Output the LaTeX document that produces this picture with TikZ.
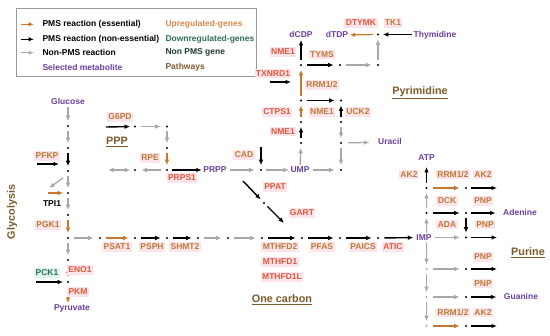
\documentclass[tikz,border=0pt]{standalone}
\usepackage{fontspec}
\setmainfont{Liberation Sans}
\usepackage{xcolor}
\usepackage{tikz}
\usetikzlibrary{arrows.meta}

\definecolor{upred}{HTML}{E0583A}
\definecolor{upbrn}{HTML}{BC7A34}
\definecolor{essarr}{HTML}{C8782E}
\definecolor{grarr}{HTML}{A8A8A8}
\definecolor{metab}{HTML}{6B3FA0}
\definecolor{pathw}{HTML}{7D5A2A}
\definecolor{downg}{HTML}{2E6E5E}
\definecolor{nonpms}{HTML}{1E3A2C}
\definecolor{uplegend}{HTML}{D8884A}
\definecolor{pinkbg}{HTML}{FDE4EB}
\definecolor{mintbg}{HTML}{DDF5EF}

\begin{document}
\begin{tikzpicture}[x=1pt, y=-1pt, >={Latex[length=5.5pt,width=4.6pt]},
    font=\fontsize{8.5}{9.5}\selectfont\bfseries,
    rdot/.style={circle, fill=black, inner sep=0pt, minimum size=2.4pt, outer sep=3.6pt},
    gdot/.style={rdot, fill=grarr},
    met/.style={text=metab, inner sep=1.4pt, text height=6pt, text depth=0.6pt},
    genA/.style={text=upred, fill=pinkbg, inner sep=1.4pt, text height=6pt, text depth=0.6pt},
    genB/.style={text=upbrn, fill=pinkbg, inner sep=1.4pt, text height=6pt, text depth=0.6pt},
    gdown/.style={text=downg, fill=mintbg, inner sep=1.4pt, text height=6pt, text depth=0.6pt},
    pway/.style={text=pathw, font=\fontsize{10.8}{12}\selectfont\bfseries},
    ess/.style={->, essarr, line width=1.3pt},
    nes/.style={->, black, line width=1.4pt},
    non/.style={->, grarr, line width=1.3pt},
    hsh/.style={shorten <=1.5pt, shorten >=1.5pt}]
    \useasboundingbox (0,0) rectangle (550,336);

    % Legend
    \draw[gray!80, line width=0.6pt] (16,8) rectangle (256,76);
    \foreach \y/\s [count=\i] in {24.3/ess, 39.3/nes, 52.7/non} {
        \coordinate (la\i) at (21,\y);
        \coordinate (lb\i) at (34,\y);
        \draw[\s] (la\i) -- (lb\i);
    }
    \node[anchor=west] (leg1) at (39,24.3) {PMS reaction (essential)};
    \node[anchor=west] (leg2) at (39,39.3) {PMS reaction (non-essential)};
    \node[anchor=west] (leg3) at (39,52.7) {Non-PMS reaction};
    \node[anchor=west, text=metab] (leg4) at (39,67.3) {Selected metabolite};
    \node[anchor=west, text=uplegend] (leg5) at (162,24.3) {Upregulated-genes};
    \node[anchor=west, text=downg] (leg6) at (162,39.3) {Downregulated-genes};
    \node[anchor=west, text=nonpms] (leg7) at (162,52.7) {Non PMS gene};
    \node[anchor=west, text=pathw] (leg8) at (162,67.3) {Pathways};

    % Glycolysis
    \node[met] (glc) at (68,102) {Glucose};
    \node[rdot] (g1) at (68,126) {};
    \node[rdot] (g2) at (68,148) {};
    \node[rdot] (g3) at (68,171) {};
    \node[rdot] (g4) at (68,193) {};
    \node[rdot] (g5) at (68,215) {};
    \node[rdot] (g6) at (68,238) {};
    \node[rdot] (g7) at (68,260) {};
    \node[rdot] (g8) at (68,282) {};
    \node[met] (pyr) at (72,308) {Pyruvate};
    \draw[non] (glc) -- (g1);
    \draw[non] (g1) -- (g2);
    \draw[nes] (g2) -- (g3);
    \draw[non] (g3) -- (g4);
    \draw[non] (g4) -- (g5);
    \draw[ess] (g5) -- (g6);
    \draw[non] (g6) -- (g7);
    \draw[ess] (g7) -- (g8);
    \draw[ess] (g8) -- (g8 |- pyr.north);

    \node[genB] (pfkp) at (47,156) {PFKP};
    \coordinate (pfkA) at (37,164);
    \coordinate (pfkB) at (59,164);
    \draw[nes] (pfkA) -- (pfkB);
    \coordinate (tpA) at (63,178);
    \coordinate (tpB) at (49,188);
    \draw[non] (tpA) -- (tpB);
    \coordinate (tpC) at (48,193);
    \draw[ess] (tpC) -- (g4);
    \node (tpi) at (52,204) {TPI1};
    \node[genB] (pgk) at (48,225) {PGK1};
    \node[genA] (eno) at (80,270) {ENO1};
    \node[genA] (pkm) at (78,292) {PKM};
    \node[gdown] (pck) at (47,273) {PCK1};
    \coordinate (pckA) at (36,282);
    \draw[nes] (pckA) -- (g8);
    \node[pway, rotate=90] (glyc) at (12,212) {Glycolysis};

    % Serine and one carbon
    \node[rdot] (s1) at (100,238) {};
    \node[rdot] (s2) at (135,238) {};
    \node[rdot] (s3) at (167,238) {};
    \node[rdot] (s4) at (198,238) {};
    \node[rdot] (s5) at (228,238) {};
    \node[rdot] (s6) at (262,238) {};
    \node[rdot] (s7) at (302,238) {};
    \node[rdot] (s8) at (340,238) {};
    \node[rdot] (s9) at (378,238) {};
    \draw[non, hsh] (g6) -- (s1);
    \draw[ess, hsh] (s1) -- (s2);
    \draw[nes, hsh] (s2) -- (s3);
    \draw[nes, hsh] (s3) -- (s4);
    \draw[non, hsh] (s4) -- (s5);
    \draw[non, hsh] (s5) -- (s6);
    \draw[nes, hsh] (s6) -- (s7);
    \draw[nes, hsh] (s7) -- (s8);
    \draw[nes, hsh] (s8) -- (s9);
    \node[genB] (psat) at (117,247) {PSAT1};
    \node[genB] (psph) at (152,247) {PSPH};
    \node[genB] (shmt) at (185,247) {SHMT2};
    \node[genB] (mthfdb) at (280,247) {MTHFD2};
    \node[genA] (mthfda) at (280,262) {MTHFD1};
    \node[genA] (mthfdl) at (282,277) {MTHFD1L};
    \node[genB] (pfas) at (322,247) {PFAS};
    \node[genB] (paics) at (363,247) {PAICS};
    \node[genA] (atic) at (393,247) {ATIC};
    \node[pway] (onec) at (282,300) {\underline{One carbon}};

    % PPP
    \node[rdot] (p1) at (135,126.5) {};
    \node[rdot] (p2) at (167,126.5) {};
    \node[rdot] (p3) at (167,148) {};
    \node[rdot] (p4) at (167,170) {};
    \node[rdot] (p5) at (135,170) {};
    \node[met] (prpp) at (215,170) {PRPP};
    \coordinate (g6pA) at (106,127);
    \coordinate (ppA) at (108,170);
    \draw[nes] (g6pA) -- (p1);
    \draw[non, hsh] (p1) -- (p2);
    \draw[non] (p2) -- (p3);
    \draw[ess] (p3) -- (p4);
    \draw[non, hsh] (p4) -- (p5);
    \draw[non, <->] (ppA) -- (p5);
    \draw[nes] (p4) -- (prpp);
    \node[genB] (g6pd) at (120,117) {G6PD};
    \node[genB] (rpe) at (150,158) {RPE};
    \node[genA] (prps) at (182,178) {PRPS1};
    \node[pway] (ppp) at (117,142) {\underline{PPP}};

    % Pyrimidine
    \node[rdot] (c1) at (261,170) {};
    \node[met] (ump) at (300,170) {UMP};
    \node[rdot] (u1) at (341,100.5) {};
    \node[rdot] (u2) at (341,122) {};
    \node[rdot] (u3) at (341,143) {};
    \node[rdot] (u4) at (341,170) {};
    \draw[non, hsh] (prpp) -- (c1);
    \draw[non] (c1) -- (ump);
    \draw[non, hsh] (ump) -- (u4);
    \coordinate (cadA) at (261,147);
    \draw[nes] (cadA) -- (c1);
    \node[genB] (cad) at (244,155) {CAD};
    \coordinate (ppatA) at (243,181);
    \node[rdot] (q1) at (264,203) {};
    \coordinate (gartB) at (284,223);
    \draw[nes] (ppatA) -- (q1);
    \draw[nes] (q1) -- (gartB);
    \node[genA] (ppat) at (275,187) {PPAT};
    \node[genA] (gart) at (302,213) {GART};

    \node[rdot] (y1) at (301,143) {};
    \node[rdot] (y2) at (301,122) {};
    \node[rdot] (y3) at (301,100.5) {};
    \node[rdot] (y4) at (301,65) {};
    \node[met] (dcdp) at (301,35) {dCDP};
    \draw[non] (ump) -- (y1);
    \draw[nes] (y1) -- (y2);
    \draw[ess] (y2) -- (y3);
    \draw[ess] (y3) -- (y4);
    \draw[nes] (y4) -- (dcdp);
    \node[genA] (nmea) at (283,131.5) {NME1};
    \node[genA] (ctps) at (277,112) {CTPS1};
    \node[genB] (rrma) at (322,85) {RRM1/2};
    \node[genA] (nmeb) at (283,52) {NME1};
    \node[genA] (txn) at (273,73.5) {TXNRD1};
    \coordinate (txA) at (270,82);
    \coordinate (txB) at (291,82);
    \draw[nes] (txA) -- (txB);

    \draw[nes, hsh] (y3) -- (u1);
    \draw[nes] (u2) -- (u1);
    \draw[non] (u2) -- (u3);
    \draw[non] (u3) -- (u4);
    \node[genB] (nmec) at (322,112) {NME1};
    \node[genB] (uck) at (358,112) {UCK2};
    \node[met] (ura) at (390,142) {Uracil};
    \draw[non, shorten <=2pt, shorten >=7pt] (u3) -- (ura);

    \node[rdot] (t1) at (340,65) {};
    \node[rdot] (t2) at (378,65) {};
    \node[rdot] (t3) at (378,34.5) {};
    \node[met] (dtdp) at (337,35) {dTDP};
    \node[met] (thy) at (435,34.5) {Thymidine};
    \draw[nes, hsh] (y4) -- (t1);
    \draw[non, hsh] (t1) -- (t2);
    \draw[non] (t2) -- (t3);
    \draw[ess] (t3) -- (dtdp);
    \draw[nes] (thy) -- (t3);
    \node[genB] (tyms) at (322,54.5) {TYMS};
    \node[genA] (dtymk) at (361,23) {DTYMK};
    \node[genB] (tk) at (393,23) {TK1};
    \node[pway] (pyrim) at (420,93) {\underline{Pyrimidine}};

    % Purine
    \node[met] (atp) at (426.5,158) {ATP};
    \node[rdot] (a1) at (426.5,188) {};
    \node[rdot] (a2) at (426.5,213) {};
    \node[met] (imp) at (424,237.5) {IMP};
    \node[gdot] (a3) at (426.5,269) {};
    \node[gdot] (a4) at (426.5,297) {};
    \node[gdot] (a5) at (426.5,326) {};
    \node[rdot] (b1) at (466,188) {};
    \node[rdot] (b2) at (466,213) {};
    \node[rdot] (b3) at (466,237.5) {};
    \node[rdot] (b4) at (466,269) {};
    \node[rdot] (b5) at (466,297) {};
    \node[rdot] (b6) at (466,326) {};
    \node[met] (ade) at (520,213) {Adenine};
    \node[met] (gua) at (521,297) {Guanine};
    \coordinate (e1) at (497,188);
    \coordinate (e3) at (497,237.5);
    \coordinate (e4) at (497,269);
    \coordinate (e6) at (497,326);

    \draw[nes, hsh] (s9) -- (imp);
    \draw[nes, shorten >=4pt] (a1) -- (atp);
    \draw[non] (a2) -- (a1);
    \draw[non] (imp.north -| a2) -- (a2);
    \draw[non] (imp.south -| a3) -- (a3);
    \draw[non] (a3) -- (a4);
    \draw[non] (a4) -- (a5);
    \draw[ess, hsh] (a1) -- (b1);
    \draw[nes, hsh] (a2) -- (b2);
    \draw[non, hsh] (imp) -- (b3);
    \draw[non, hsh] (a3) -- (b4);
    \draw[non, hsh] (a4) -- (b5);
    \draw[ess, hsh] (a5) -- (b6);
    \draw[nes] (b2) -- (b3);
    \draw[nes] (b1) -- (e1);
    \draw[nes, shorten >=6pt] (b2) -- (ade);
    \draw[nes] (b3) -- (e3);
    \draw[nes] (b4) -- (e4);
    \draw[nes, shorten >=6pt] (b5) -- (gua);
    \draw[nes] (b6) -- (e6);
    \node[genB] (aka) at (409,174.5) {AK2};
    \node[genB] (rrmb) at (453,174.5) {RRM1/2};
    \node[genB] (akb) at (483,174.5) {AK2};
    \node[genB] (dck) at (447,201) {DCK};
    \node[genB] (pnpa) at (483,201) {PNP};
    \node[genB] (ada) at (447,224.5) {ADA};
    \node[genB] (pnpb) at (485,224.5) {PNP};
    \node[genB] (pnpc) at (483,257) {PNP};
    \node[genB] (pnpd) at (483,283.5) {PNP};
    \node[genB] (rrmc) at (453,312.5) {RRM1/2};
    \node[genB] (akc) at (483,312.5) {AK2};
    \node[pway] (pur) at (528,252.5) {\underline{Purine}};
\end{tikzpicture}
\end{document}
